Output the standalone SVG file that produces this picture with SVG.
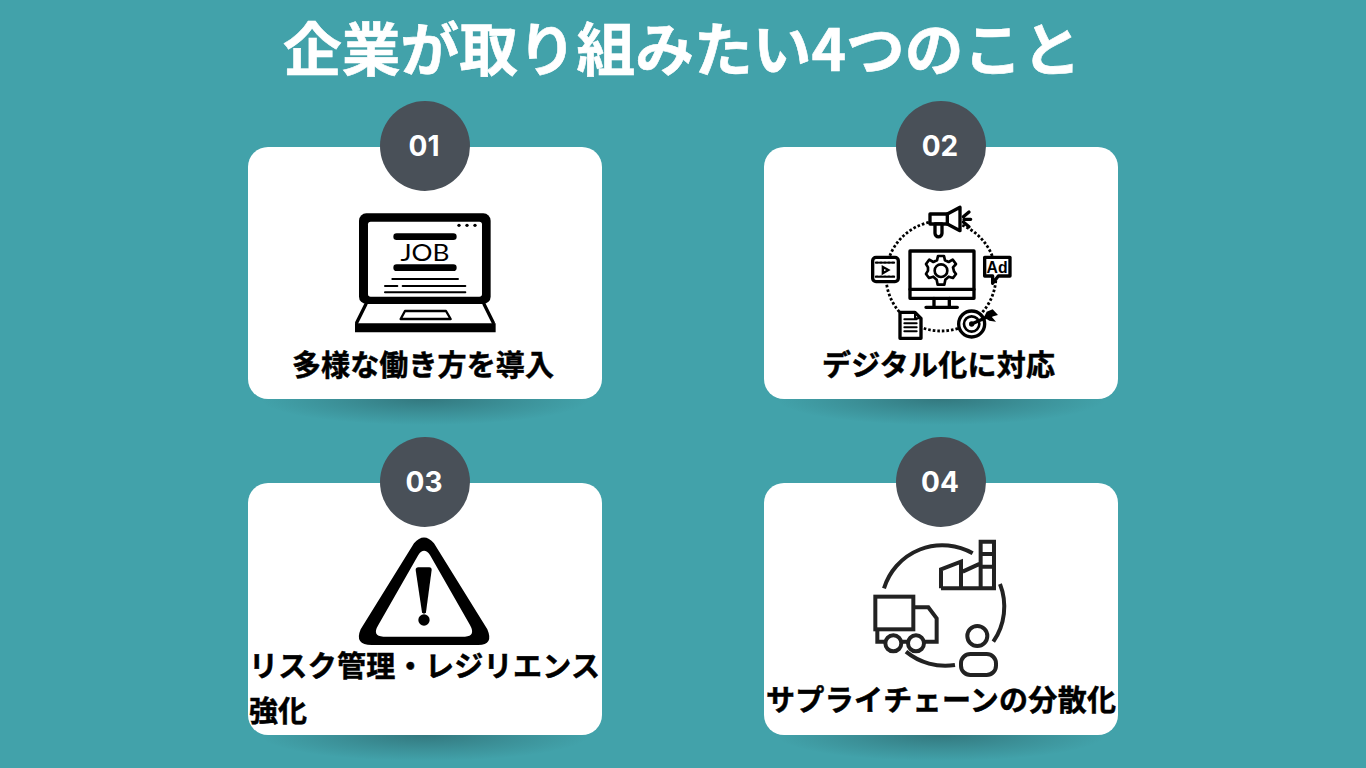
<svg xmlns="http://www.w3.org/2000/svg" width="1366" height="768" viewBox="0 0 1366 768">
<style>
text{font-family:"Noto Sans CJK JP","Noto Sans",sans-serif;font-weight:700}
.title{font-size:58px;fill:#fff;text-anchor:middle;stroke:#fff;stroke-width:.6px}
.label{font-size:29px;fill:#000;stroke:#000;stroke-width:.5px}
.num{font-size:28px;fill:#fff;text-anchor:middle;font-family:Inter,"Noto Sans",sans-serif}
.card{fill:#fff}
.badge{fill:#495058}
.k{fill:none;stroke:#000;stroke-linecap:round;stroke-linejoin:round}
.w{fill:#fff;stroke:#000;stroke-linejoin:round}
.s{fill:none;stroke:#222;stroke-width:12;stroke-linejoin:miter}
.b{fill:#000}
</style>
<defs>
<radialGradient id="sh"><stop offset="0" stop-color="#1f3f44" stop-opacity=".42"/><stop offset=".55" stop-color="#1f3f44" stop-opacity=".18"/><stop offset="1" stop-color="#1f3f44" stop-opacity="0"/></radialGradient>
</defs>
<rect width="1366" height="768" fill="#42a2aa"/>
<text id="title" class="title" x="682" y="71" textLength="798" lengthAdjust="spacingAndGlyphs">企業が取り組みたい4つのこと</text>

<g id="node-01">
<ellipse cx="425" cy="399" rx="165" ry="26" fill="url(#sh)"/>
<rect class="card" x="248" y="147" width="354" height="252" rx="20"/>
<circle class="badge" cx="425" cy="146" r="45"/>
<text class="num" x="424" y="156">01</text>
<g transform="translate(340 200) scale(.3333)">
<rect class="b" x="57" y="40" width="395" height="272" rx="22"/>
<rect x="84" y="65" width="342" height="225" rx="8" fill="#fff"/>
<circle class="b" cx="357" cy="76" r="5"/><circle class="b" cx="381" cy="76" r="5"/><circle class="b" cx="405" cy="76" r="5"/>
<rect class="b" x="160" y="100" width="190" height="20" rx="10"/>
<rect class="b" x="160" y="193" width="190" height="20" rx="10"/>
<path class="k" d="M157 237H354M135 258H172M188 258H376M135 277H376" stroke-width="6" stroke-linecap="butt"/>
<path class="k" d="M78 312L50 368M432 312L460 368" stroke-width="10"/>
<path class="b" d="M45 370H467V397H45Z"/>
<path class="k" d="M195 333H318L332 357H182Z" stroke-width="7"/>
</g>
<text x="425" y="261" font-size="24" style="font-family:Lato,'Liberation Sans',sans-serif;font-weight:400" text-anchor="middle" textLength="49" lengthAdjust="spacingAndGlyphs" fill="#000">JOB</text>
<text class="label" x="292" y="376" textLength="262">多様な働き方を導入</text>
</g>

<g id="node-02">
<ellipse cx="941" cy="399" rx="165" ry="26" fill="url(#sh)"/>
<rect class="card" x="764" y="147" width="354" height="252" rx="20"/>
<circle class="badge" cx="941" cy="146" r="45"/>
<text class="num" x="940" y="156">02</text>
<circle cx="941" cy="276" r="55" fill="none" stroke="#000" stroke-width="2.8" stroke-dasharray="2.6 2"/>
<g transform="translate(860 200) scale(.3333)" stroke-width="10">
<rect class="w" x="150" y="153" width="192" height="142" fill="#fff"/>
<path class="k" d="M150 268H342M222 295V320M268 295V320M198 322H292"/>
<g transform="translate(243 212)">
<path class="k" stroke-width="8" d="M-9 -44H9L12 -31L23 -26L35 -33L45 -20L36 -10L39 2L45 10L36 22L23 18L13 27L10 42H-10L-13 27L-23 18L-36 22L-45 10L-39 0L-39 -10L-45 -20L-35 -33L-23 -26L-12 -31Z"/>
<circle r="19" class="k" stroke-width="8"/>
</g>
<path class="w" d="M210 42H262L300 22V92L262 72H210Z"/>
<path class="w" d="M225 72H246V100A10 10 0 0 1 225 100Z"/>
<path class="k" d="M262 42V72M310 50L327 36M312 58H332M310 66L327 80"/>
<rect class="w" x="38" y="172" width="77" height="73" rx="10"/>
<path class="k" d="M48 188H105M48 230H105" stroke-dasharray="6 6" stroke-width="7" stroke-linecap="butt"/>
<path class="b" d="M65 195L92 210L65 226ZM72 207V214L79 210Z" fill-rule="evenodd"/>
<path class="w" d="M374 172H450V228H415L398 250V228H374Z"/>
<path class="w" d="M120 337H165L183 355V415H120Z"/>
<path class="k" d="M133 358H170M133 370H170M133 382H170M133 394H170" stroke-width="6"/>
<path class="k" d="M165 337V355H183" stroke-width="6"/>
<circle class="w" cx="335" cy="372" r="39"/>
<circle class="k" cx="335" cy="372" r="23" stroke-width="8"/>
<circle class="b" cx="335" cy="372" r="8" stroke="none"/>
<path class="k" d="M335 372L395 345"/>
<path class="b" stroke="none" d="M380 335L398 328L414 345L395 350L408 365L388 362L372 352Z"/>
</g>
<text x="997" y="273" font-size="16" text-anchor="middle" textLength="21" lengthAdjust="spacingAndGlyphs" style="font-family:'Liberation Sans',sans-serif" fill="#000">Ad</text>
<text class="label" x="822" y="376" textLength="233">デジタル化に対応</text>
</g>

<g id="node-03">
<ellipse cx="425" cy="735" rx="165" ry="26" fill="url(#sh)"/>
<rect class="card" x="248" y="483" width="354" height="252" rx="20"/>
<circle class="badge" cx="425" cy="482" r="45"/>
<text class="num" x="424" y="492">03</text>
<g transform="translate(350 530) scale(.3333)">
<path class="b" fill-rule="evenodd" d="M192 40Q222 5 252 40L412 298Q432 345 385 345H65Q12 345 32 298ZM205 75L85 285Q65 318 100 320H345Q378 318 360 285L240 75Q222 50 205 75Z"/>
<path class="b" d="M197 120Q197 112 205 112H238Q245 112 245 120L228 247Q222 255 216 247Z"/>
<circle class="b" cx="222" cy="270" r="17"/>
</g>
<text class="label" x="249" y="677" textLength="351">リスク管理・レジリエンス</text>
<text class="label" x="249" y="722" textLength="58">強化</text>
</g>

<g id="node-04">
<ellipse cx="941" cy="735" rx="165" ry="26" fill="url(#sh)"/>
<rect class="card" x="764" y="483" width="354" height="252" rx="20"/>
<circle class="badge" cx="941" cy="482" r="45"/>
<text class="num" x="940" y="492">04</text>
<g transform="translate(860 530) scale(.3333)">
<path class="s" d="M72 175A183 183 0 0 1 338 70M420 162A185 185 0 0 1 400 335M285 405A185 185 0 0 1 138 365"/>
<path class="s" d="M243 175V118L303 95V175M243 175H402V35H362V175M308 125L362 100M362 72H402M362 110H402"/>
<rect class="s" x="46" y="200" width="114" height="98"/>
<path class="s" d="M160 232H205L230 265V335H193M125 335H145M75 335H52V298"/>
<circle class="s" cx="100" cy="340" r="24"/>
<circle class="s" cx="168" cy="340" r="24"/>
<circle class="s" cx="352" cy="318" r="30"/>
<rect class="s" x="303" y="372" width="105" height="63" rx="28"/>
</g>
<text class="label" x="766" y="711" textLength="350">サプライチェーンの分散化</text>
</g>
</svg>
